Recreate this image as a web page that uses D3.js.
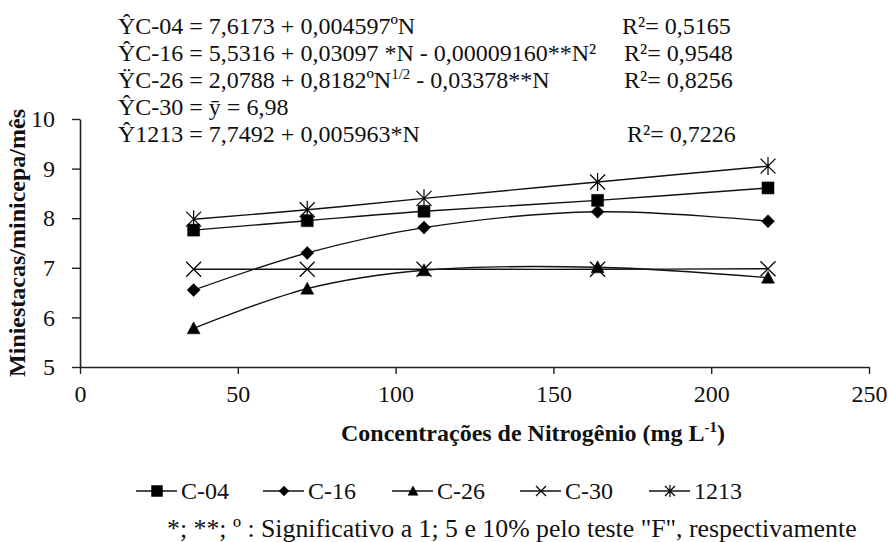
<!DOCTYPE html>
<html><head><meta charset="utf-8">
<script src="https://cdn.jsdelivr.net/npm/d3@7"></script>
<style>body{margin:0;background:#fff}svg{display:block}svg text{fill:#111}</style>
</head><body><svg id="c" width="888" height="542" font-family="Liberation Serif, serif"></svg>
<script>
const nitrogen = [36, 72, 109, 164, 218];
const seriesNames = ["C-04", "C-16", "C-26", "C-30", "1213"];
const c04 = [7.76, 7.95, 8.14, 8.36, 8.61];
const c16 = [6.55, 7.30, 7.81, 8.13, 7.94];
const c26 = [5.78, 6.58, 6.95, 7.01, 6.80];
const c30 = [6.97, 6.97, 6.97, 6.97, 6.98];
const s1213 = [7.98, 8.17, 8.40, 8.73, 9.05];
const xTicks = [0, 50, 100, 150, 200, 250];
const yTicks = [5, 6, 7, 8, 9, 10];
const equations = [
  {main: "ŶC-04 = 7,6173 + 0,004597ºN", r2: "R²= 0,5165"},
  {main: "ŶC-16 = 5,5316 + 0,03097 *N - 0,00009160**N²", r2: "R²= 0,9548"},
  {main: "ŸC-26 = 2,0788 + 0,8182ºN|1/2| - 0,03378**N", r2: "R²= 0,8256"},
  {main: "ŶC-30 = ȳ = 6,98", r2: ""},
  {main: "Ŷ1213 = 7,7492 + 0,005963*N", r2: "R²= 0,7226"}
];
const footnote = "*; **; º : Significativo a 1; 5 e 10% pelo teste \"F\", respectivamente";

const values = [c04, c16, c26, c30, s1213];
const markers = ["square", "diamond", "triangle", "cross", "star"];
const FONT = "Liberation Serif";

const svg = d3.select("#c");
const x = d3.scaleLinear().domain([0, 250]).range([80, 869]);
const y = d3.scaleLinear().domain([5, 10]).range([367, 119]);

const gx = svg.append("g").attr("transform", "translate(0,367)")
  .call(d3.axisBottom(x).tickValues(xTicks).tickFormat(d3.format("d")).tickSize(7).tickSizeOuter(0).tickPadding(11));
const gy = svg.append("g").attr("transform", "translate(80,0)")
  .call(d3.axisLeft(y).tickValues(yTicks).tickFormat(d3.format("d")).tickSize(8).tickSizeOuter(0).tickPadding(17));
[gx, gy].forEach(g => {
  g.attr("font-family", FONT).attr("font-size", 24);
  g.select(".domain").attr("stroke", "#222").attr("stroke-width", 1.6);
  g.selectAll(".tick line").attr("stroke", "#222").attr("stroke-width", 1.4);
  g.selectAll(".tick text").attr("fill", "#111");
});

function txt(sel) { return sel.attr("font-family", FONT); }

txt(svg.append("text")).attr("transform", "translate(25,243) rotate(-90)")
  .attr("text-anchor", "middle").attr("font-size", 24).attr("font-weight", "bold")
  .text("Miniestacas/minicepa/mês");
const xt = txt(svg.append("text")).attr("x", 533).attr("y", 441).attr("text-anchor", "middle")
  .attr("font-size", 24).attr("font-weight", "bold");
xt.append("tspan").text("Concentrações de Nitrogênio (mg L");
xt.append("tspan").attr("dy", -9).attr("font-size", 15).text("-1");
xt.append("tspan").attr("dy", 9).text(")");

function symbolPath(type, s) {
  const h = s / 2;
  switch (type) {
    case "square": return `M${-h},${-h}H${h}V${h}H${-h}Z`;
    case "diamond": return `M0,${-h}L${h},0L0,${h}L${-h},0Z`;
    case "triangle": return `M0,${-h}L${h},${h * 0.85}L${-h},${h * 0.85}Z`;
    case "cross": return `M${-h},${-h}L${h},${h}M${h},${-h}L${-h},${h}`;
    case "star": return `M${-h},${-h}L${h},${h}M${h},${-h}L${-h},${h}M0,${-h * 1.2}L0,${h * 1.2}`;
  }
}
function drawMarker(g, type, cx, cy, s) {
  const filled = ["square", "diamond", "triangle"].includes(type);
  g.append("path").attr("d", symbolPath(type, s)).attr("transform", `translate(${cx},${cy})`)
    .attr("fill", filled ? "#000" : "none").attr("stroke", "#000")
    .attr("stroke-width", filled ? 0.5 : 1.2);
}

const line = d3.line().x(d => x(d[0])).y(d => y(d[1])).curve(d3.curveCatmullRom.alpha(0.5));
const sizes = {square: 12, diamond: 13, triangle: 13, cross: 15, star: 15};
values.forEach((vals) => {
  const pts = nitrogen.map((n, j) => [n, vals[j]]);
  svg.append("path").attr("d", line(pts)).attr("fill", "none").attr("stroke", "#111").attr("stroke-width", 1.4);
});
values.forEach((vals, i) => {
  const g = svg.append("g");
  nitrogen.forEach((n, j) => drawMarker(g, markers[i], x(n), y(vals[j]), sizes[markers[i]]));
});

const eqX = 118, eqY0 = 34, eqDy = 27;
const r2X = [622, 624, 624, 0, 627];
equations.forEach((e, i) => {
  const t = txt(svg.append("text")).attr("x", eqX).attr("y", eqY0 + i * eqDy).attr("font-size", 24);
  e.main.split("|").forEach((p, k) => {
    if (k % 2 === 1) t.append("tspan").attr("dy", -9).attr("font-size", 15).text(p);
    else t.append("tspan").attr("dy", k > 0 ? 9 : 0).text(p);
  });
  if (e.r2) txt(svg.append("text")).attr("x", r2X[i]).attr("y", eqY0 + i * eqDy).attr("font-size", 24).text(e.r2);
});

const legX = [136, 263, 392, 520, 649];
const legY = 491;
seriesNames.forEach((name, i) => {
  const g = svg.append("g");
  g.append("line").attr("x1", legX[i]).attr("x2", legX[i] + 41).attr("y1", legY).attr("y2", legY)
    .attr("stroke", "#111").attr("stroke-width", 1.4);
  drawMarker(g, markers[i], legX[i] + 21, legY, markers[i] === "square" ? 11 : 10);
  txt(g.append("text")).attr("x", legX[i] + 45).attr("y", legY + 8).attr("font-size", 24).text(name);
});

txt(svg.append("text")).attr("x", 167).attr("y", 537).attr("font-size", 25.8).text(footnote);
</script></body></html>
